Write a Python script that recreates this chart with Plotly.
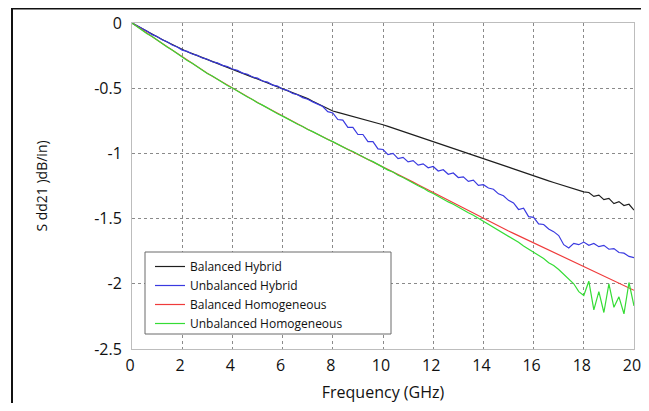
import plotly.graph_objects as go

freq = [0.0, 0.2, 0.4, 0.6, 0.8, 1.0, 1.2, 1.4, 1.6, 1.8,
        2.0, 2.2, 2.4, 2.6, 2.8, 3.0, 3.2, 3.4, 3.6, 3.8,
        4.0, 4.2, 4.4, 4.6, 4.8, 5.0, 5.2, 5.4, 5.6, 5.8,
        6.0, 6.2, 6.4, 6.6, 6.8, 7.0, 7.2, 7.4, 7.6, 7.8,
        8.0, 8.2, 8.4, 8.6, 8.8, 9.0, 9.2, 9.4, 9.6, 9.8,
        10.0, 10.2, 10.4, 10.6, 10.8, 11.0, 11.2, 11.4, 11.6, 11.8,
        12.0, 12.2, 12.4, 12.6, 12.8, 13.0, 13.2, 13.4, 13.6, 13.8,
        14.0, 14.2, 14.4, 14.6, 14.8, 15.0, 15.2, 15.4, 15.6, 15.8,
        16.0, 16.2, 16.4, 16.6, 16.8, 17.0, 17.2, 17.4, 17.6, 17.8,
        18.0, 18.2, 18.4, 18.6, 18.8, 19.0, 19.2, 19.4, 19.6, 19.8,
        20.0]

balanced_hybrid = [0.0, -0.022, -0.044, -0.065, -0.086, -0.106, -0.126, -0.146, -0.166, -0.186,
                   -0.205, -0.22, -0.235, -0.25, -0.265, -0.28, -0.294, -0.308, -0.322, -0.336,
                   -0.35, -0.365, -0.38, -0.395, -0.41, -0.425, -0.44, -0.455, -0.47, -0.485,
                   -0.50, -0.516, -0.532, -0.548, -0.564, -0.58, -0.60, -0.62, -0.64, -0.66,
                   -0.675, -0.685, -0.695, -0.705, -0.715, -0.725, -0.736, -0.747, -0.758, -0.769,
                   -0.78, -0.793, -0.806, -0.819, -0.832, -0.845, -0.858, -0.871, -0.884, -0.897,
                   -0.91, -0.922, -0.934, -0.946, -0.958, -0.97, -0.983, -0.996, -1.009, -1.022,
                   -1.035, -1.049, -1.063, -1.077, -1.091, -1.105, -1.119, -1.133, -1.147, -1.161,
                   -1.175, -1.187, -1.199, -1.211, -1.223, -1.235, -1.247, -1.259, -1.271, -1.283,
                   -1.295, -1.30, -1.33, -1.32, -1.355, -1.345, -1.385, -1.37, -1.40, -1.39,
                   -1.435]

unbalanced_hybrid = [0.0, -0.020, -0.046, -0.063, -0.089, -0.104, -0.129, -0.144, -0.169, -0.184,
                     -0.208, -0.218, -0.238, -0.248, -0.268, -0.278, -0.297, -0.306, -0.325, -0.334,
                     -0.353, -0.363, -0.384, -0.393, -0.414, -0.423, -0.445, -0.453, -0.476, -0.484,
                     -0.508, -0.516, -0.540, -0.550, -0.572, -0.585, -0.605, -0.622, -0.640, -0.680,
                     -0.690, -0.740, -0.745, -0.800, -0.800, -0.855, -0.855, -0.910, -0.910, -0.965,
                     -0.970, -1.010, -1.000, -1.040, -1.030, -1.065, -1.055, -1.090, -1.080, -1.110,
                     -1.100, -1.135, -1.125, -1.160, -1.150, -1.185, -1.180, -1.215, -1.205, -1.245,
                     -1.240, -1.265, -1.275, -1.310, -1.325, -1.360, -1.380, -1.430, -1.420, -1.485,
                     -1.490, -1.540, -1.545, -1.580, -1.600, -1.630, -1.700, -1.725, -1.690, -1.700,
                     -1.680, -1.705, -1.690, -1.715, -1.705, -1.735, -1.730, -1.760, -1.765, -1.790,
                     -1.800]

balanced_homogeneous = [0.0, -0.027, -0.054, -0.080, -0.105, -0.130, -0.156, -0.182, -0.208, -0.234,
                        -0.260, -0.285, -0.310, -0.335, -0.360, -0.385, -0.408, -0.431, -0.454, -0.477,
                        -0.500, -0.522, -0.544, -0.566, -0.588, -0.610, -0.631, -0.652, -0.673, -0.694,
                        -0.715, -0.735, -0.755, -0.775, -0.795, -0.815, -0.834, -0.853, -0.872, -0.891,
                        -0.910, -0.929, -0.948, -0.967, -0.986, -1.005, -1.024, -1.043, -1.062, -1.081,
                        -1.100, -1.120, -1.140, -1.160, -1.180, -1.200, -1.220, -1.240, -1.260, -1.280,
                        -1.300, -1.320, -1.340, -1.360, -1.380, -1.400, -1.420, -1.440, -1.460, -1.480,
                        -1.500, -1.519, -1.538, -1.557, -1.576, -1.595, -1.613, -1.631, -1.649, -1.667,
                        -1.685, -1.703, -1.721, -1.739, -1.757, -1.775, -1.793, -1.811, -1.829, -1.847,
                        -1.865, -1.883, -1.901, -1.919, -1.937, -1.955, -1.974, -1.993, -2.012, -2.031,
                        -2.050]

unbalanced_homogeneous = [0.0, -0.028, -0.053, -0.082, -0.104, -0.132, -0.155, -0.184, -0.207, -0.236,
                          -0.259, -0.287, -0.309, -0.337, -0.359, -0.387, -0.407, -0.433, -0.453, -0.479,
                          -0.499, -0.524, -0.543, -0.568, -0.587, -0.612, -0.630, -0.654, -0.672, -0.696,
                          -0.714, -0.737, -0.754, -0.777, -0.794, -0.817, -0.833, -0.855, -0.872, -0.893,
                          -0.910, -0.931, -0.948, -0.970, -0.986, -1.008, -1.025, -1.047, -1.063, -1.086,
                          -1.105, -1.128, -1.143, -1.168, -1.185, -1.208, -1.226, -1.248, -1.266, -1.290,
                          -1.307, -1.330, -1.348, -1.372, -1.390, -1.413, -1.432, -1.455, -1.474, -1.497,
                          -1.518, -1.540, -1.562, -1.588, -1.610, -1.636, -1.660, -1.682, -1.710, -1.733,
                          -1.758, -1.785, -1.806, -1.838, -1.860, -1.890, -1.925, -1.965, -2.000, -2.060,
                          -2.090, -1.980, -2.200, -2.060, -2.220, -2.000, -2.180, -2.100, -2.230, -1.990,
                          -2.170]

series_names = ["Balanced Hybrid", "Unbalanced Hybrid", "Balanced Homogeneous", "Unbalanced Homogeneous"]
series_values = [balanced_hybrid, unbalanced_hybrid, balanced_homogeneous, unbalanced_homogeneous]
series_colors = ["#1e1e1e", "#3a3ae0", "#ef3b3b", "#35dc35"]

x_tick_vals = [0, 2, 4, 6, 8, 10, 12, 14, 16, 18, 20]
x_tick_text = ["0", "2", "4", "6", "8", "10", "12", "14", "16", "18", "20"]
y_tick_vals = [0, -0.5, -1, -1.5, -2, -2.5]
y_tick_text = ["0", "-0.5", "-1", "-1.5", "-2", "-2.5"]

FONT = "Open Sans, DejaVu Sans, sans-serif"

fig = go.Figure()
for name, vals, col in zip(series_names, series_values, series_colors):
    fig.add_trace(go.Scatter(x=freq, y=vals, mode="lines", name=name,
                             line=dict(color=col, width=1.2)))

# the page body has an 8px margin; figure pixel = page pixel - 8.
OFF = 8
W, H = 641, 395
L, T = 124, 15
R = W - (634 - OFF)
B = H - (349 - OFF)
pw, ph = W - L - R, H - T - B


def px_x(page_px):
    return (page_px - OFF - L) / pw


def px_y(page_px):
    return (H - B - (page_px - OFF)) / ph


shapes = [
    # outer frame (left and top edges)
    dict(type="line", xref="paper", yref="paper", x0=px_x(12), x1=px_x(12), y0=px_y(8), y1=px_y(430),
         line=dict(color="#111111", width=2)),
    dict(type="line", xref="paper", yref="paper", x0=px_x(11), x1=px_x(670), y0=px_y(8.5), y1=px_y(8.5),
         line=dict(color="#111111", width=2)),
    # legend box
    dict(type="rect", xref="paper", yref="paper", x0=px_x(145), x1=px_x(391), y0=px_y(252), y1=px_y(334),
         fillcolor="white", line=dict(color="#6a6a6a", width=1), layer="above"),
]

fig.update_layout(
    width=W, height=H,
    margin=dict(l=L, r=R, t=T, b=B, autoexpand=False),
    paper_bgcolor="white", plot_bgcolor="white",
    font=dict(family=FONT, size=16, color="#111111"),
    shapes=shapes,
    showlegend=True,
    legend=dict(x=px_x(150), y=px_y(252), xanchor="left", yanchor="top",
                bgcolor="rgba(0,0,0,0)", borderwidth=0,
                font=dict(family=FONT, size=12, color="#111111"),
                tracegroupgap=0, itemwidth=30),
    xaxis=dict(range=[0, 20], tickvals=x_tick_vals, ticktext=x_tick_text,
               showgrid=True, gridcolor="#8a8a8a", griddash="dot", gridwidth=1,
               showline=True, linecolor="#bdbdbd", linewidth=1, mirror=True,
               zeroline=False, ticks="", ticklabelstandoff=2, automargin=False,
               ticklabeloverflow="allow", ticklabelshift=-2,
               title=dict(text="Frequency (GHz)", standoff=15, font=dict(size=16))),
    yaxis=dict(range=[-2.5, 0], tickvals=y_tick_vals, ticktext=y_tick_text,
               showgrid=True, gridcolor="#8a8a8a", griddash="dot", gridwidth=1,
               showline=True, linecolor="#bdbdbd", linewidth=1, mirror=True,
               zeroline=False, ticks="", ticklabelstandoff=6, automargin=False,
               ticklabeloverflow="allow",
               title=dict(text="S dd21 )dB/in)", standoff=43, font=dict(size=14))),
)

fig.write_html("out.html")
